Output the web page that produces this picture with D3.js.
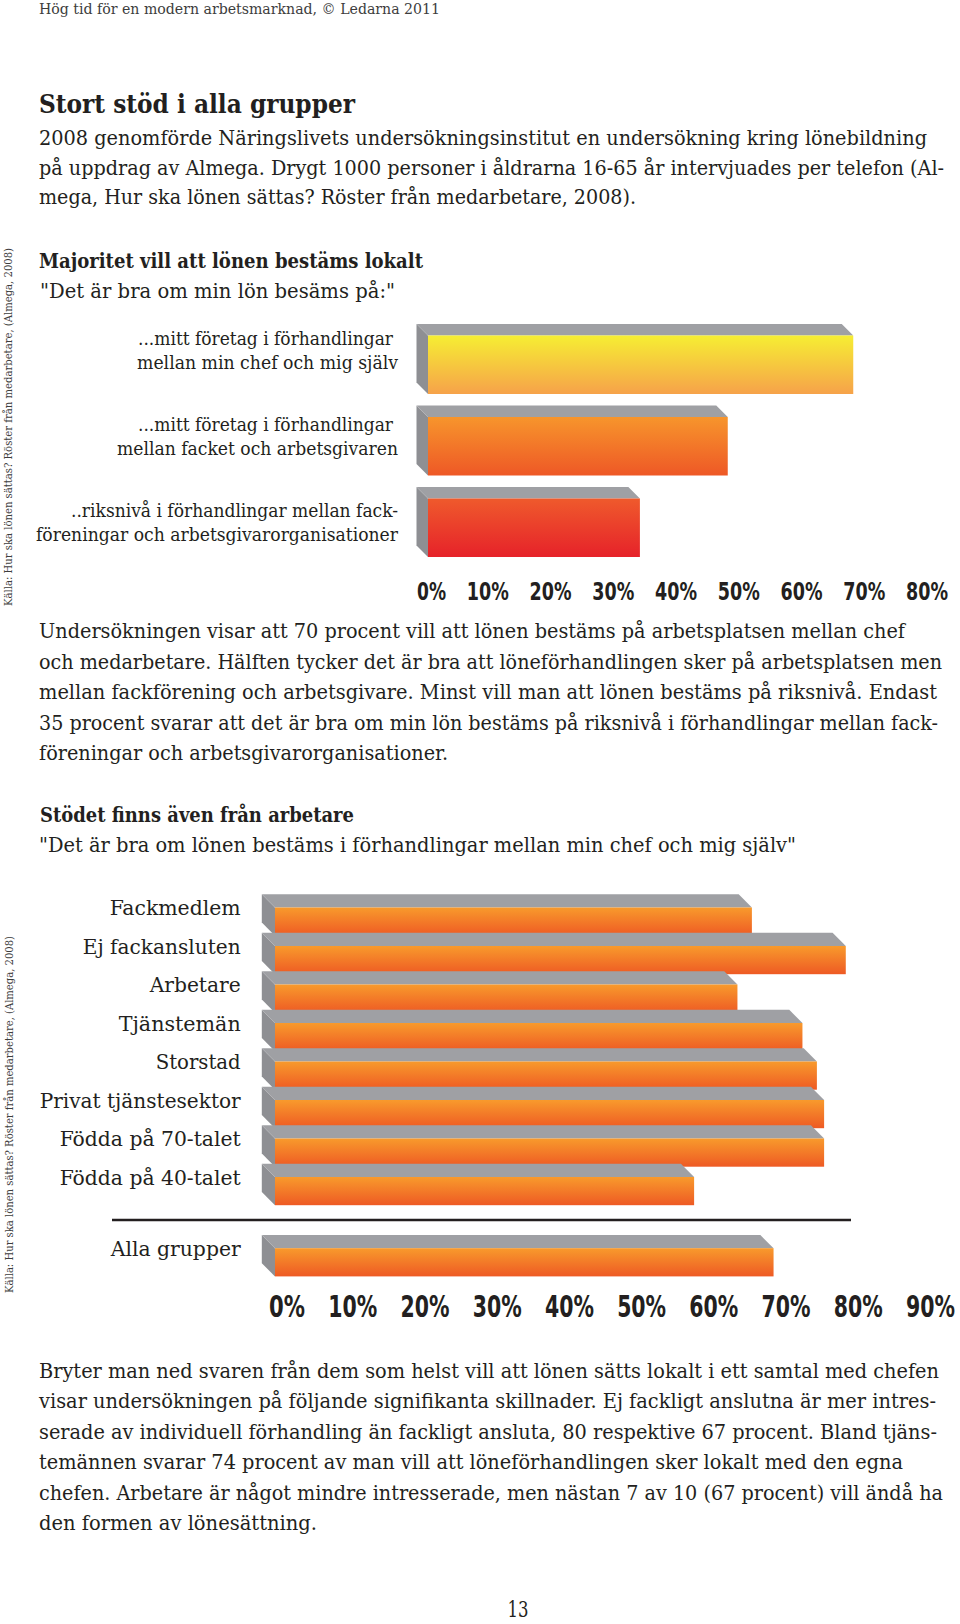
<!DOCTYPE html>
<html><head><meta charset="utf-8">
<script src="https://cdn.jsdelivr.net/npm/d3@7/dist/d3.min.js"></script>
<style>body{margin:0;background:#fff} svg{display:block;background:#fff}</style>
</head><body>
<svg id="c" width="960" height="1624"></svg>
<script>
// ---------- data ----------
const headerText = "Hög tid för en modern arbetsmarknad, © Ledarna 2011";
const sectionTitle = "Stort stöd i alla grupper";
const introLines = [
  "2008 genomförde Näringslivets undersökningsinstitut en undersökning kring lönebildning",
  "på uppdrag av Almega. Drygt 1000 personer i åldrarna 16-65 år intervjuades per telefon (Al-",
  "mega, Hur ska lönen sättas? Röster från medarbetare, 2008)."
];
const chart1Title = "Majoritet vill att lönen bestäms lokalt";
const chart1Subtitle = "\"Det är bra om min lön besäms på:\"";
const chart1Categories = ["chef och mig själv", "facket och arbetsgivaren", "riksnivå"];
const chart1LabelLines = [
  ["...mitt företag i förhandlingar", "mellan min chef och mig själv"],
  ["...mitt företag i förhandlingar", "mellan facket och arbetsgivaren"],
  ["..riksnivå i förhandlingar mellan fack-", "föreningar och arbetsgivarorganisationer"]
];
const chart1Values = [70, 50, 36];
const chart1Ticks = [0, 10, 20, 30, 40, 50, 60, 70, 80];

const para2Lines = [
  "Undersökningen visar att 70 procent vill att lönen bestäms på arbetsplatsen mellan chef",
  "och medarbetare. Hälften tycker det är bra att löneförhandlingen sker på arbetsplatsen men",
  "mellan fackförening och arbetsgivare. Minst vill man att lönen bestäms på riksnivå. Endast",
  "35 procent svarar att det är bra om min lön bestäms på riksnivå i förhandlingar mellan fack-",
  "föreningar och arbetsgivarorganisationer."
];
const chart2Title = "Stödet finns även från arbetare";
const chart2Subtitle = "\"Det är bra om lönen bestäms i förhandlingar mellan min chef och mig själv\"";
const chart2Categories = ["Fackmedlem", "Ej fackansluten", "Arbetare", "Tjänstemän", "Storstad",
  "Privat tjänstesektor", "Födda på 70-talet", "Födda på 40-talet"];
const chart2Values = [67, 80, 65, 74, 76, 77, 77, 59];
const chart2TotalCategories = ["Alla grupper"];
const chart2TotalValues = [70];
const chart2Ticks = [0, 10, 20, 30, 40, 50, 60, 70, 80, 90];

const para3Lines = [
  "Bryter man ned svaren från dem som helst vill att lönen sätts lokalt i ett samtal med chefen",
  "visar undersökningen på följande signifikanta skillnader. Ej fackligt anslutna är mer intres-",
  "serade av individuell förhandling än fackligt ansluta, 80 respektive 67 procent. Bland tjäns-",
  "temännen svarar 74 procent av man vill att löneförhandlingen sker lokalt med den egna",
  "chefen. Arbetare är något mindre intresserade, men nästan 7 av 10 (67 procent) vill ändå ha",
  "den formen av lönesättning."
];
const sourceText = "Källa: Hur ska lönen sättas? Röster från medarbetare, (Almega, 2008)";
const pageNumber = "13";

// ---------- layout ----------
const SERIF = "'DejaVu Serif Condensed', 'DejaVu Serif', 'Liberation Serif', serif";
const NARROW = "'Liberation Sans Narrow', 'DejaVu Sans Condensed', 'DejaVu Sans', sans-serif";
const INK = "#231f20";
const introWidths = [888, 905, 597];
const para2Widths = [866, 903, 898, 899, 409];
const para3Widths = [900, 897, 898, 864, 904, 278];
const chart1LabelWidths = [[255, 261], [255, 281], [327, 362]];
const chart1LabelRight = [[393, 398], [393, 398], [398, 398]];
const chart2LabelWidths = [131, 158, 91, 122, 85, 201, 181, 181];
const chart2TotalLabelWidths = [130];

const svg = d3.select("#c");
const defs = svg.append("defs");

// text helper: shrinks the font until its natural width fits the target width,
// then pins the exact width with textLength (only small adjustments remain)
function txt(g, s, x, y, o) {
  o = o || {};
  const size = o.size || 21;
  const t = g.append("text").attr("x", x).attr("y", y).text(s)
    .attr("font-family", o.family || SERIF)
    .attr("font-size", size)
    .attr("font-weight", o.weight || "normal")
    .attr("fill", o.fill || INK)
    .attr("text-anchor", o.anchor || "start");
  if (o.transform) t.attr("transform", o.transform);
  if (o.width) {
    const nat = t.node().getComputedTextLength();
    if (nat > o.width) t.attr("font-size", (size * o.width / nat).toFixed(2));
    t.attr("textLength", o.width).attr("lengthAdjust", "spacingAndGlyphs");
  }
  return t;
}

// condensed text: keeps the glyph height, squeezes horizontally with a transform
function txtCondensed(g, s, x, y, o) {
  const holder = g.append("g");
  const t = holder.append("text").attr("x", 0).attr("y", 0).text(s)
    .attr("font-family", o.family || SERIF)
    .attr("font-size", o.size)
    .attr("font-weight", o.weight || "normal")
    .attr("fill", o.fill || INK)
    .attr("text-anchor", o.anchor || "start");
  const nat = t.node().getComputedTextLength();
  const sx = nat > 0 ? o.width / nat : 1;
  holder.attr("transform", `translate(${x},${y}) scale(${sx.toFixed(4)},1)`);
  return t;
}

function grad(id, c0, c1) {
  const lg = defs.append("linearGradient").attr("id", id)
    .attr("x1", 0).attr("y1", 0).attr("x2", 0).attr("y2", 1);
  lg.append("stop").attr("offset", "0%").attr("stop-color", c0);
  lg.append("stop").attr("offset", "100%").attr("stop-color", c1);
}
grad("g1a", "#F6EE33", "#F6A24A");
grad("g1b", "#F7952C", "#EE5826");
grad("g1c", "#EF5A2C", "#E6222A");
grad("g2", "#F89A2C", "#EE5A24");
const chart1Fills = ["url(#g1a)", "url(#g1b)", "url(#g1c)"];

// header + intro
txt(svg, headerText, 39, 13.5, {size: 15.5, fill: "#3d3d3d", width: 401});
txt(svg, sectionTitle, 39, 113, {size: 26, weight: "bold", width: 316});
introLines.forEach((l, i) => txt(svg, l, 39, 145 + i * 29.5, {size: 21, width: introWidths[i]}));

// vertical source texts
txt(svg, sourceText, 0, 0, {size: 12.5, fill: "#3d3d3d", width: 358, transform: "translate(12,606) rotate(-90)"});
txt(svg, sourceText, 0, 0, {size: 12.5, fill: "#3d3d3d", width: 357, transform: "translate(13,1293) rotate(-90)"});

// 3D bar drawer
function bar3d(g, xLeftFront, xRight, yTop, depth, frontH, fill) {
  const bl = xLeftFront - depth;
  const yF = yTop + depth, yB = yF + frontH;
  g.append("path").attr("fill", "#8e8f93")
    .attr("d", `M${bl},${yTop}L${xLeftFront},${yF}L${xLeftFront},${yB}L${bl},${yB - depth}Z`);
  g.append("path").attr("fill", "#9fa0a4")
    .attr("d", `M${bl},${yTop}L${xRight - depth},${yTop}L${xRight},${yF}L${xLeftFront},${yF}Z`);
  g.append("rect").attr("x", xLeftFront).attr("y", yF)
    .attr("width", Math.max(0, xRight - xLeftFront)).attr("height", frontH).attr("fill", fill);
}

// ---------- chart 1 ----------
const c1 = svg.append("g");
txt(c1, chart1Title, 39, 267.7, {size: 20.5, weight: "bold", width: 384});
txt(c1, chart1Subtitle, 40, 298, {size: 21, width: 355});
const x1 = d3.scaleLinear().domain([0, 80]).range([414, 916]);
const y1 = d3.scaleBand().domain(chart1Categories).range([324, 324 + 3 * 81.5]);
const yl1 = d3.scalePoint().domain(chart1Categories).range([345, 517]);
chart1Categories.forEach((c, i) => {
  bar3d(c1, x1(0) + 14, x1(chart1Values[i]), y1(c), 11.5, 58.5, chart1Fills[i]);
  chart1LabelLines[i].forEach((l, j) =>
    txt(c1, l, chart1LabelRight[i][j], yl1(c) + j * 24,
      {size: 18.5, anchor: "end", width: chart1LabelWidths[i][j]}));
});
chart1Ticks.forEach(v => txtCondensed(c1, v + "%", x1(v) + 32, 599.5,
  {family: NARROW, size: 25, weight: "bold", anchor: "end", width: v === 0 ? 29 : 42}));

// paragraph 2
para2Lines.forEach((l, i) => txt(svg, l, 39, 638 + i * 30.5, {size: 21, width: para2Widths[i]}));

// ---------- chart 2 ----------
const c2 = svg.append("g");
txt(c2, chart2Title, 40, 822, {size: 20.5, weight: "bold", width: 314});
txt(c2, chart2Subtitle, 39, 852, {size: 21, width: 757});
const x2 = d3.scaleLinear().domain([0, 90]).range([268, 918]);
const y2 = d3.scaleBand().domain(chart2Categories).range([894.3, 894.3 + 8 * 38.5]);
const y2t = d3.scaleBand().domain(chart2TotalCategories).range([1235, 1235 + 38.5]);
chart2Categories.forEach((c, i) => {
  bar3d(c2, x2(0) + 7, x2(chart2Values[i]), y2(c), 13.2, 28.2, "url(#g2)");
  txt(c2, c, 240.7, y2(c) + 20.7, {size: 20.5, anchor: "end", width: chart2LabelWidths[i]});
});
c2.append("line").attr("x1", 112).attr("x2", 851).attr("y1", 1220).attr("y2", 1220)
  .attr("stroke", INK).attr("stroke-width", 2.5);
chart2TotalCategories.forEach((c, i) => {
  bar3d(c2, x2(0) + 7, x2(chart2TotalValues[i]), y2t(c), 13.2, 28.2, "url(#g2)");
  txt(c2, c, 240.7, y2t(c) + 20.7, {size: 20.5, anchor: "end", width: chart2TotalLabelWidths[i]});
});
chart2Ticks.forEach(v => txtCondensed(c2, v + "%", x2(v) + 37, 1317,
  {family: NARROW, size: 30, weight: "bold", anchor: "end", width: v === 0 ? 36 : 49}));

// paragraph 3
para3Lines.forEach((l, i) => txt(svg, l, 39, 1377.5 + i * 30.5, {size: 21, width: para3Widths[i]}));

// page number
txtCondensed(svg, pageNumber, 518, 1617, {size: 22, anchor: "middle", width: 21});
</script>
</body></html>
